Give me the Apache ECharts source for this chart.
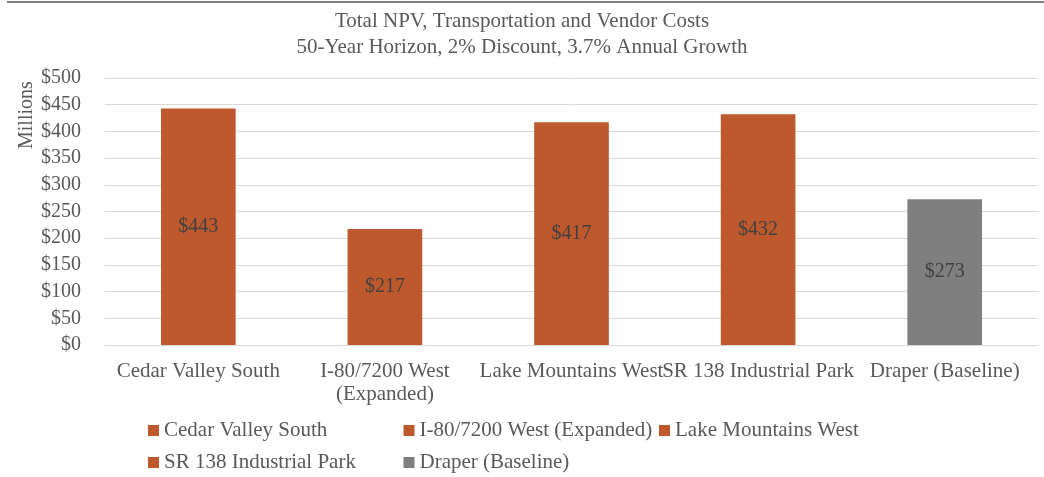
<!DOCTYPE html>
<html lang="en">
<head>
    <meta charset="UTF-8">
    <title>Total NPV</title>
    <script src="https://cdn.jsdelivr.net/npm/echarts@6/dist/echarts.min.js"></script>
    <style>
        html, body, #chart {
            width: 100%;
            height: 100%;
            margin: 0;
            padding: 0;
            background: #fff;
        }
    </style>
</head>
<body>
    <div id="chart"></div>
    <script>
        var sites = ['Cedar Valley South', 'I-80/7200 West (Expanded)', 'Lake Mountains West', 'SR 138 Industrial Park', 'Draper (Baseline)'];
        var npv = [443, 217, 417, 432, 273];
        var colors = ['#BE582D', '#BE582D', '#BE582D', '#BE582D', '#7F7F7F'];

        var font = "'Liberation Serif', 'DejaVu Serif', serif";

        // one series per site so the legend lists each one
        var series = sites.map(function (name, i) {
            var data = sites.map(function (s, j) { return j === i ? npv[i] : '-'; });
            return {
                name: name,
                type: 'bar',
                stack: 'all',
                barWidth: '40%',
                itemStyle: { color: colors[i] },
                label: {
                    show: true,
                    position: 'inside',
                    formatter: '${c}',
                    color: '#404040',
                    fontFamily: font,
                    fontSize: 20
                },
                data: data
            };
        });

        // legend laid out as a 3-column grid, like the original
        var legends = sites.map(function (name, i) {
            return {
                left: 148 + (i % 3) * 255.5,
                top: 420 + Math.floor(i / 3) * 32,
                padding: 0,
                itemWidth: 11,
                itemHeight: 11,
                icon: 'rect',
                textStyle: {
                    color: '#595959',
                    fontFamily: font,
                    fontSize: 21
                },
                data: [name]
            };
        });

        var chart = echarts.init(document.getElementById('chart'));
        chart.setOption({
            animation: false,
            title: {
                text: 'Total NPV, Transportation and Vendor Costs\n50-Year Horizon, 2% Discount, 3.7% Annual Growth',
                left: 'center',
                top: 3,
                textStyle: {
                    color: '#595959',
                    fontFamily: font,
                    fontWeight: 'normal',
                    fontSize: 21,
                    lineHeight: 26
                }
            },
            grid: { left: 105, right: 6, top: 78, bottom: 132 },
            xAxis: {
                type: 'category',
                data: sites,
                axisLine: { lineStyle: { color: '#D9D9D9' } },
                axisTick: { show: false },
                axisLabel: {
                    interval: 0,
                    margin: 15,
                    color: '#595959',
                    fontFamily: font,
                    fontSize: 21,
                    lineHeight: 23,
                    formatter: function (v) {
                        return v.length > 22 ? v.replace(' (', '\n(') : v;
                    }
                }
            },
            yAxis: {
                type: 'value',
                min: 0,
                max: 500,
                interval: 50,
                axisLine: { show: false },
                axisTick: { show: false },
                splitLine: { lineStyle: { color: '#D9D9D9' } },
                axisLabel: {
                    margin: 24,
                    color: '#595959',
                    fontFamily: font,
                    fontSize: 20,
                    formatter: '${value}'
                }
            },
            legend: legends,
            graphic: [
                {
                    type: 'text',
                    x: 17,
                    y: 149,
                    rotation: Math.PI / 2,
                    style: {
                        text: 'Millions',
                        fill: '#595959',
                        font: "20px 'Liberation Serif', serif"
                    }
                },
                {
                    type: 'line',
                    shape: { x1: 7, y1: 2, x2: 1044, y2: 2 },
                    style: { stroke: '#808080', lineWidth: 2 }
                }
            ],
            series: series
        });
    </script>
</body>
</html>
